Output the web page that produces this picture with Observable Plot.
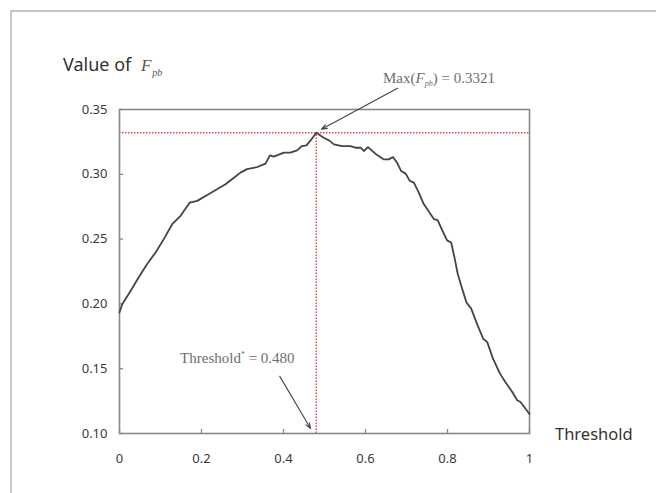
<!DOCTYPE html>
<html>
<head>
<meta charset="utf-8">
<script src="https://cdn.jsdelivr.net/npm/d3@7"></script>
<script src="https://cdn.jsdelivr.net/npm/@observablehq/plot@0.6"></script>
<style>
  html, body { margin: 0; padding: 0; background: #fff; }
  #chart { position: relative; width: 656px; height: 493px; }
</style>
</head>
<body>
<div id="chart"></div>
<script>
// Threshold values (x) and F_pb values (y)
const thresholds = [0, 0.007, 0.027, 0.047, 0.0675, 0.088, 0.108, 0.1285, 0.149, 0.1715, 0.1895, 0.214, 0.238, 0.2585, 0.279, 0.295, 0.311, 0.336, 0.356, 0.367, 0.376, 0.401, 0.417, 0.433, 0.445, 0.456, 0.468, 0.480, 0.498, 0.511, 0.523, 0.543, 0.563, 0.576, 0.588, 0.596, 0.606, 0.624, 0.645, 0.657, 0.667, 0.677, 0.687, 0.698, 0.708, 0.718, 0.730, 0.742, 0.754, 0.767, 0.776, 0.787, 0.799, 0.809, 0.817, 0.825, 0.836, 0.846, 0.858, 0.872, 0.887, 0.897, 0.911, 0.928, 0.941, 0.958, 0.970, 0.978, 1.0];
const fpbValues = [0.1935, 0.200, 0.210, 0.2205, 0.2308, 0.2397, 0.250, 0.2615, 0.268, 0.2782, 0.2795, 0.2841, 0.2885, 0.2923, 0.2974, 0.3013, 0.304, 0.3056, 0.3082, 0.3146, 0.3136, 0.3167, 0.3167, 0.3185, 0.3218, 0.3223, 0.3269, 0.3321, 0.3282, 0.3262, 0.3231, 0.3218, 0.3218, 0.3205, 0.3205, 0.318, 0.321, 0.3159, 0.3115, 0.3115, 0.3133, 0.309, 0.3025, 0.3005, 0.2949, 0.2936, 0.2859, 0.277, 0.2715, 0.2654, 0.2646, 0.257, 0.249, 0.2474, 0.2359, 0.2231, 0.2115, 0.2012, 0.1962, 0.1846, 0.1731, 0.1705, 0.1577, 0.1462, 0.1397, 0.132, 0.1256, 0.1243, 0.115];
const xTicks = [0, 0.2, 0.4, 0.6, 0.8, 1];
const yTicks = [0.10, 0.15, 0.20, 0.25, 0.30, 0.35];
const peakThreshold = 0.480;
const peakValue = 0.3321;

// annotation anchors (data units)
const maxArrow = [{x1: 0.678, y1: 0.3664, x2: 0.4927, y2: 0.3348}];
const thrArrow = [{x1: 0.391, y1: 0.1441, x2: 0.466, y2: 0.1038}];
const maxLabelPos = {x: 0.644, y: 0.370};
const thrLabelPos = {x: 0.149, y: 0.154};

const data = thresholds.map((t, i) => ({t, v: fpbValues[i]}));

const red = "#e8424a";
const plot = Plot.plot({
  width: 656,
  height: 493,
  marginLeft: 119,
  marginRight: 127,
  marginTop: 109,
  marginBottom: 60,
  style: {fontFamily: "'Noto Sans', sans-serif", fontSize: "13px", color: "#444", background: "#fff"},
  x: {domain: [0, 1], ticks: xTicks},
  y: {domain: [0.10, 0.35], ticks: yTicks},
  marks: [
    Plot.ruleY([peakValue], {x1: 0, x2: 1, stroke: red, strokeWidth: 1.4, strokeDasharray: "1.5,1.5"}),
    Plot.ruleX([peakThreshold], {y1: 0.10, y2: peakValue, stroke: red, strokeWidth: 1.4, strokeDasharray: "1.5,1.5"}),
    Plot.frame({stroke: "#888", strokeWidth: 1.6}),
    Plot.axisY({ticks: yTicks, tickFormat: d3.format(".2f"), tickSize: -4, tickPadding: 16, stroke: "#888", strokeWidth: 1.3, label: null, fill: "#3a3a3a", fontSize: 13}),
    Plot.axisX({ticks: xTicks, tickFormat: d3.format("~g"), tickSize: -4, tickPadding: 24, stroke: "#888", strokeWidth: 1.3, label: null, fill: "#3a3a3a", fontSize: 13}),
    Plot.line(data, {x: "t", y: "v", stroke: "#444", strokeWidth: 1.8, strokeLinejoin: "round"}),
    Plot.arrow(maxArrow, {x1: "x1", y1: "y1", x2: "x2", y2: "y2", stroke: "#444", strokeWidth: 1.1, headLength: 8, headAngle: 40}),
    Plot.arrow(thrArrow, {x1: "x1", y1: "y1", x2: "x2", y2: "y2", stroke: "#444", strokeWidth: 1.1, headLength: 8, headAngle: 40})
  ]
});

document.getElementById("chart").appendChild(plot);

const svg = d3.select(plot);
const sx = plot.scale("x"), sy = plot.scale("y");

// outer border (top and left)
svg.append("path").attr("d", "M11,493V11H656").attr("fill", "none").attr("stroke", "#b4b4b4").attr("stroke-width", 1.4);

// title
const serif = "'Liberation Serif', 'Times New Roman', serif";
const title = svg.append("text").attr("x", 63).attr("y", 71).attr("fill", "#333").attr("text-anchor", "start")
  .style("font-family", "'Noto Sans', sans-serif").style("font-size", "18px");
title.append("tspan").text("Value of ");
title.append("tspan").attr("dx", 5).style("font-family", serif).style("font-style", "italic").style("font-size", "17px").attr("fill", "#555").text("F");
title.append("tspan").attr("dy", 5).attr("dx", 1).style("font-family", serif).style("font-style", "italic").style("font-size", "10px").attr("fill", "#555").text("pb");

// x axis label
svg.append("text").attr("x", 555).attr("y", 440).attr("fill", "#333").attr("text-anchor", "start")
  .style("font-family", "'Noto Sans', sans-serif").style("font-size", "16.5px").text("Threshold");

// Max annotation
const mx = svg.append("text").attr("x", sx.apply(maxLabelPos.x)).attr("y", sy.apply(maxLabelPos.y)).attr("fill", "#6e6e6e").attr("text-anchor", "start")
  .style("font-family", serif).style("font-size", "15px");
mx.append("tspan").text("Max(");
mx.append("tspan").style("font-style", "italic").text("F");
mx.append("tspan").attr("dy", 3).style("font-style", "italic").style("font-size", "8px").text("pb");
mx.append("tspan").attr("dy", -3).text(") = " + peakValue.toFixed(4));

// Threshold annotation
const th = svg.append("text").attr("x", sx.apply(thrLabelPos.x)).attr("y", sy.apply(thrLabelPos.y)).attr("fill", "#6e6e6e").attr("text-anchor", "start")
  .style("font-family", serif).style("font-size", "15px");
th.append("tspan").text("Threshold");
th.append("tspan").attr("dy", -6).style("font-size", "8px").text("*");
th.append("tspan").attr("dy", 6).text(" = " + peakThreshold.toFixed(3));
</script>
</body>
</html>
